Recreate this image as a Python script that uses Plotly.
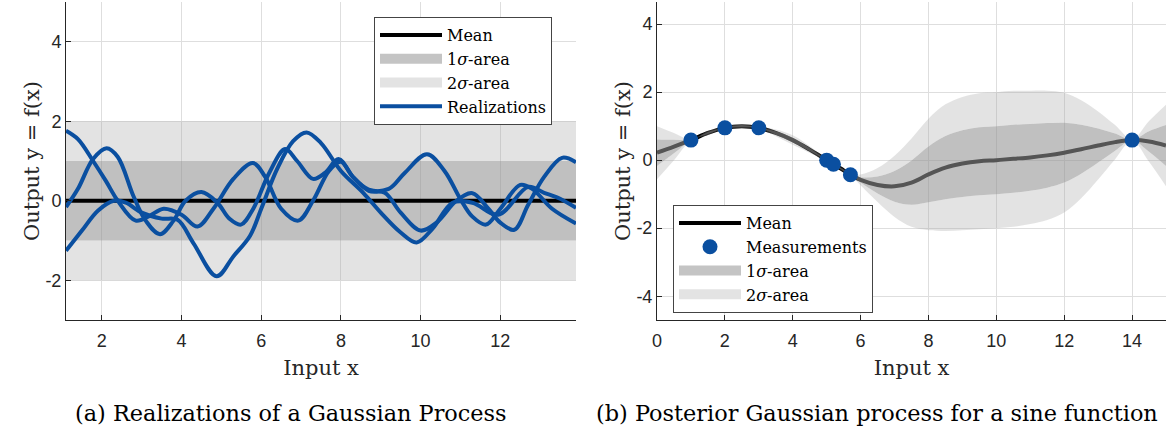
import plotly.graph_objects as go

# ---------------- data: (a) realizations of a Gaussian process ----------------
band_x = [1.1, 13.9]
band_mean = [0.0, 0.0]
band_sigma = [1.0, 1.0]

real1_x = [1.1, 1.4, 1.78, 2.1, 2.4, 2.85, 3.2, 3.55, 4.0, 4.4, 4.8, 5.3, 5.79, 6.1, 6.5, 6.93,
           7.3, 7.7, 8.0, 8.3, 8.7, 9.2, 9.6, 10.16, 10.6, 11.0, 11.3, 11.64, 12.0, 12.5, 12.8, 13.3, 13.9]
real1_y = [1.76, 1.55, 1.0, 0.5, 0.0, -0.5, -0.38, -0.2, -0.35, -0.65, -0.2, 0.55, 0.95, 0.6, -0.2, -0.5,
           0.0, 0.75, 0.98, 0.6, 0.28, 0.3, 0.7, 1.17, 0.75, 0.04, -0.4, -0.6, -0.2, 0.4, 0.3, -0.2, -0.57]

real2_x = [1.1, 1.4, 1.78, 2.12, 2.4, 2.8, 3.1, 3.46, 3.8, 4.1, 4.5, 4.9, 5.2, 5.49, 5.8, 6.2, 6.6,
           6.9, 7.3, 7.6, 7.94, 8.3, 8.7, 9.1, 9.5, 10.0, 10.4, 10.9, 11.3, 11.7, 12.0, 12.35, 12.7,
           13.1, 13.55, 13.9]
real2_y = [-0.16, 0.3, 1.05, 1.32, 1.1, 0.1, -0.5, -0.84, -0.5, 0.0, 0.22, -0.05, -0.45, -0.6, -0.2, 0.7, 1.3,
           1.0, 0.55, 0.7, 1.05, 0.6, 0.25, 0.2, -0.3, -0.75, -0.55, 0.0, 0.19, -0.2, -0.55, -0.73, -0.1,
           0.6, 1.08, 0.97]

real3_x = [1.1, 1.5, 1.9, 2.3, 2.6, 3.0, 3.5, 3.9, 4.3, 4.88, 5.3, 5.72, 6.0, 6.4, 6.8, 7.14, 7.5,
           8.0, 8.56, 9.0, 9.5, 9.9, 10.3, 10.8, 11.3, 11.95, 12.7, 13.1, 13.5, 13.9]
real3_y = [-1.26, -0.75, -0.25, 0.0, -0.05, -0.3, -0.45, -0.48, -1.07, -1.9, -1.4, -0.88, -0.2, 0.8, 1.5, 1.72, 1.45,
           0.75, 0.2, -0.3, -0.8, -1.05, -0.7, -0.05, -0.05, -0.35, 0.35, 0.2, 0.05, -0.18]

# ---------------- data: (b) posterior GP for a sine function ----------------
gp_x = [0, 0.5, 1, 1.5, 2, 2.5, 3, 3.5, 4, 4.5, 5, 5.2, 5.5, 5.7, 6, 6.5, 7, 7.5, 8, 8.5,
        9, 9.5, 10, 10.5, 11, 11.5, 12, 12.5, 13, 13.5, 14, 14.5, 15]
gp_mean = [0.22, 0.4, 0.59, 0.8, 0.95, 1.0, 0.95, 0.8, 0.59, 0.31, 0.0, -0.12, -0.3, -0.43, -0.58, -0.73,
           -0.77, -0.66, -0.42, -0.22, -0.1, -0.03, 0.0, 0.04, 0.08, 0.14, 0.22, 0.32, 0.43, 0.53, 0.59, 0.55, 0.43]
gp_sigma = [0.39, 0.2, 0.01, 0.03, 0.01, 0.03, 0.01, 0.05, 0.07, 0.05, 0.01, 0.01, 0.02, 0.01, 0.08, 0.25,
            0.45, 0.65, 0.82, 0.93, 0.98, 1.0, 1.0, 1.0, 0.98, 0.95, 0.88, 0.72, 0.5, 0.25, 0.01, 0.3, 0.6]
meas_x = [1, 2, 3, 5, 5.2, 5.7, 14]
meas_y = [0.59, 0.95, 0.95, 0.0, -0.12, -0.43, 0.59]

x_ticks_a = [2, 4, 6, 8, 10, 12]
y_ticks_a = [-2, 0, 2, 4]
x_ticks_b = [0, 2, 4, 6, 8, 10, 12, 14]
y_ticks_b = [-4, -2, 0, 2, 4]

# ---------------- style ----------------
BLUE = "#0a4fa0"
AX = "#262626"
GRID = "#dedede"
C1 = "rgba(146,146,146,0.58)"   # 1 sigma (over white ~ #c0c0c0)
C2 = "rgba(162,162,162,0.30)"   # 2 sigma (over white ~ #e3e3e3)
C1_SOLID = "#c4c4c4"
C2_SOLID = "#e3e3e3"
SERIF = "DejaVu Serif"
SANS = "Liberation Sans"


def bands(xs, mean, sig, xa, ya, smooth):
    u1 = [m + s for m, s in zip(mean, sig)]
    l1 = [m - s for m, s in zip(mean, sig)]
    u2 = [m + 2 * s for m, s in zip(mean, sig)]
    l2 = [m - 2 * s for m, s in zip(mean, sig)]
    shape = "spline" if smooth else "linear"
    common = dict(x=xs, mode="lines", line=dict(width=0, shape=shape), xaxis=xa, yaxis=ya,
                  hoverinfo="skip", showlegend=False)
    return [
        go.Scatter(y=l2, **common),
        go.Scatter(y=l1, fill="tonexty", fillcolor=C2, **common),
        go.Scatter(y=u1, fill="tonexty", fillcolor=C1, **common),
        go.Scatter(y=u2, fill="tonexty", fillcolor=C2, **common),
    ]


def legend_swatches(xa, ya, legend, rank1, rank2):
    return [
        go.Scatter(x=[None], y=[None], mode="lines", line=dict(color=C1_SOLID, width=14),
                   name="1<i>σ</i>-area", legend=legend, legendrank=rank1, xaxis=xa, yaxis=ya),
        go.Scatter(x=[None], y=[None], mode="lines", line=dict(color=C2_SOLID, width=14),
                   name="2<i>σ</i>-area", legend=legend, legendrank=rank2, xaxis=xa, yaxis=ya),
    ]


fig = go.Figure()

# (a)
for t in bands(band_x, band_mean, band_sigma, "x", "y", False):
    fig.add_trace(t)
fig.add_trace(go.Scatter(x=band_x, y=band_mean, mode="lines", line=dict(color="black", width=4),
                         name="Mean", legend="legend", legendrank=1, xaxis="x", yaxis="y"))
for t in legend_swatches("x", "y", "legend", 2, 3):
    fig.add_trace(t)
for i, (rx, ry) in enumerate([(real1_x, real1_y), (real2_x, real2_y), (real3_x, real3_y)]):
    fig.add_trace(go.Scatter(x=rx, y=ry, mode="lines", line=dict(color=BLUE, width=4, shape="spline"),
                             name="Realizations", showlegend=(i == 0), legend="legend", legendrank=4,
                             xaxis="x", yaxis="y"))

# (b)
fig.add_trace(go.Scatter(x=gp_x, y=gp_mean, mode="lines", line=dict(color="black", width=4, shape="spline"),
                         name="Mean", legend="legend2", legendrank=1, xaxis="x2", yaxis="y2"))
for t in bands(gp_x, gp_mean, gp_sigma, "x2", "y2", True):
    fig.add_trace(t)
for t in legend_swatches("x2", "y2", "legend2", 3, 4):
    fig.add_trace(t)
fig.add_trace(go.Scatter(x=meas_x, y=meas_y, mode="markers", marker=dict(color=BLUE, size=15),
                         name="Measurements", legend="legend2", legendrank=2, xaxis="x2", yaxis="y2"))

L, T, B = 66, 2, 114
W, H = 1166, 434
pw = W - L
ph = H - B - T


def axis_common():
    return dict(showline=True, linecolor=AX, linewidth=1, ticks="inside", ticklen=5, tickcolor=AX,
                showgrid=True, gridcolor=GRID, gridwidth=1, zeroline=False,
                tickfont=dict(family=SANS, size=18, color=AX), automargin=False)


legend_style = dict(bgcolor="white", bordercolor="#444", borderwidth=1,
                    font=dict(family=SERIF, size=16, color="black"),
                    xanchor="left", yanchor="top", traceorder="normal", itemwidth=62,
                    tracegroupgap=0)

title_font = dict(family=SERIF, size=21, color=AX)
caption_font = dict(family=SERIF, size=22.4, color="black")

fig.update_layout(
    width=W, height=H,
    margin=dict(l=L, r=0, t=T, b=B, autoexpand=False),
    plot_bgcolor="white", paper_bgcolor="white",
    xaxis=dict(domain=[0, (576 - L) / pw], range=[1.1, 13.9], tickvals=x_ticks_a,
               ticktext=[str(v) for v in x_ticks_a], anchor="y", ticklabelstandoff=4,
               title=dict(text="Input x", font=title_font, standoff=10),
               **axis_common()),
    yaxis=dict(domain=[0, 1], range=[-3, 5], tickvals=y_ticks_a, ticktext=[str(v) for v in y_ticks_a],
               anchor="x",
               title=dict(text="Output y = f(x)", font=title_font, standoff=0),
               **axis_common()),
    xaxis2=dict(domain=[(657 - L) / pw, 1], range=[0, 15], tickvals=x_ticks_b,
                ticktext=[str(v) for v in x_ticks_b], anchor="y2", ticklabelstandoff=4,
                title=dict(text="Input x", font=title_font, standoff=10),
                **axis_common()),
    yaxis2=dict(domain=[0, 1], range=[-4.7, 4.65], tickvals=y_ticks_b, ticktext=[str(v) for v in y_ticks_b],
                anchor="x2",
                title=dict(text="Output y = f(x)", font=title_font, standoff=0),
                **axis_common()),
    legend=dict(x=(374 - L) / pw, y=(H - B - 17) / ph, **legend_style),
    legend2=dict(x=(673 - L) / pw, y=(H - B - 205) / ph, **legend_style),
    annotations=[
        dict(text="(a) Realizations of a Gaussian Process", xref="paper", yref="paper",
             x=(291 - L) / pw, y=-(413 - (H - B)) / ph, xanchor="center", yanchor="middle",
             showarrow=False, font=caption_font),
        dict(text="(b) Posterior Gaussian process for a sine function", xref="paper", yref="paper",
             x=(594 - L) / pw, y=-(413 - (H - B)) / ph, xanchor="left", yanchor="middle",
             showarrow=False, font=caption_font),
    ],
)

fig.write_html("out.html")
